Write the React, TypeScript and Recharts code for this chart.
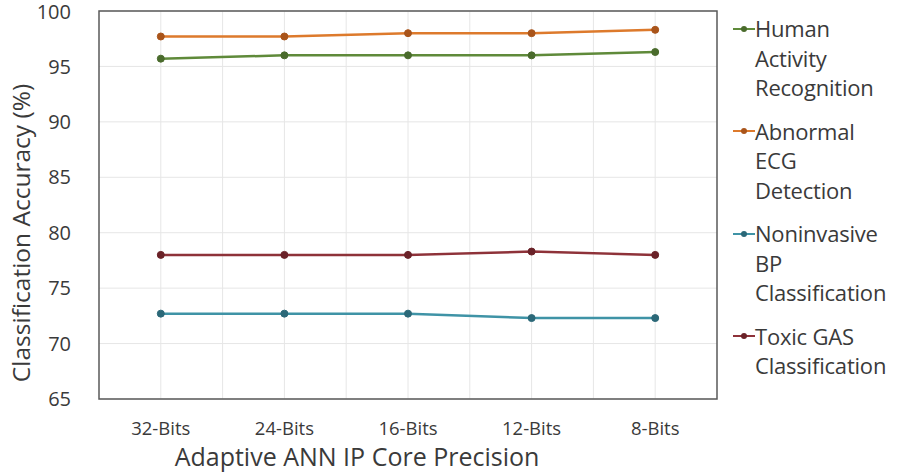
import { CartesianGrid, Legend, Line, LineChart, ReferenceArea, XAxis, YAxis } from "recharts";

const precisions = ["32-Bits", "24-Bits", "16-Bits", "12-Bits", "8-Bits"];

const humanActivity = [95.7, 96.0, 96.0, 96.0, 96.3];
const abnormalEcg = [97.7, 97.7, 98.0, 98.0, 98.3];
const noninvasiveBp = [72.7, 72.7, 72.7, 72.3, 72.3];
const toxicGas = [78.0, 78.0, 78.0, 78.3, 78.0];

const yTicks = [65, 70, 75, 80, 85, 90, 95, 100];

const series = [
  { key: "human", lines: ["Human", "Activity", "Recognition"], values: humanActivity, color: "#5f8a3a", dot: "#4a6b2c" },
  { key: "ecg", lines: ["Abnormal", "ECG", "Detection"], values: abnormalEcg, color: "#dd7a2c", dot: "#a9541a" },
  { key: "bp", lines: ["Noninvasive", "BP", "Classification"], values: noninvasiveBp, color: "#3f93a6", dot: "#2b6878" },
  { key: "gas", lines: ["Toxic GAS", "Classification"], values: toxicGas, color: "#8e3239", dot: "#6a2228" },
];

const data = precisions.map((p, i) => {
  const row: Record<string, string | number> = { precision: p };
  series.forEach((s) => (row[s.key] = s.values[i]));
  return row;
});

const font = "'Open Sans', sans-serif";
const textColor = "#3a3a3a";

function LegendBox() {
  return (
    <div style={{ fontFamily: font, fontSize: 22, color: textColor, lineHeight: "29.5px", letterSpacing: -0.2 }}>
      {series.map((s) => (
        <div key={s.key} style={{ marginBottom: 14 }}>
          {s.lines.map((line, i) => (
            <div key={line} style={{ display: "flex", alignItems: "center", whiteSpace: "nowrap" }}>
              {i === 0 ? (
                <svg width={22} height={10} style={{ marginRight: 0 }}>
                  <line x1={0} y1={5} x2={22} y2={5} stroke={s.color} strokeWidth={2} />
                  <circle cx={11} cy={5} r={3} fill={s.dot} />
                </svg>
              ) : (
                <span style={{ width: 22, display: "inline-block" }} />
              )}
              <span>{line}</span>
            </div>
          ))}
        </div>
      ))}
    </div>
  );
}

export default function App() {
  return (
    <div style={{ position: "absolute", left: 0, top: 0, width: 907, height: 474, background: "#fff" }}>
      <LineChart width={907} height={474} data={data} margin={{ top: 11, right: 16, left: 0, bottom: 30 }}>
        <CartesianGrid
          stroke="#e6e6e6"
          verticalCoordinatesGenerator={({ offset }: any) => {
            const step = offset.width / precisions.length / 2;
            const pts: number[] = [];
            for (let i = 1; i < precisions.length * 2; i++) pts.push(offset.left + i * step);
            return pts;
          }}
        />
        <XAxis
          dataKey="precision"
          scale="band"
          axisLine={false}
          tickLine={false}
          tick={{ fill: textColor, fontSize: 18.5, fontFamily: font }}
          tickMargin={17}
          height={45}
          label={{ value: "Adaptive ANN IP Core Precision", position: "insideBottom", offset: -22, dx: -51, fill: textColor, fontSize: 25, fontFamily: font }}
        />
        <YAxis
          domain={[65, 100]}
          ticks={yTicks}
          axisLine={false}
          tickLine={false}
          width={99}
          tickMargin={22}
          tick={{ fill: textColor, fontSize: 20, fontFamily: font }}
          label={{ value: "Classification Accuracy (%)", angle: -90, position: "insideLeft", dx: 16, dy: 28, fill: textColor, fontSize: 24.5, fontFamily: font, style: { textAnchor: "middle" } }}
        />
        <ReferenceArea y1={65} y2={100} fill="none" stroke="#5a5a5a" strokeWidth={1.5} ifOverflow="visible" />
        {series.map((s) => (
          <Line
            key={s.key}
            dataKey={s.key}
            name={s.lines.join(" ")}
            stroke={s.color}
            strokeWidth={2.5}
            dot={{ r: 3.5, fill: s.dot, stroke: s.dot, strokeWidth: 1 }}
            isAnimationActive={false}
          />
        ))}
        <Legend
          layout="vertical"
          align="right"
          verticalAlign="top"
          content={<LegendBox />}
          wrapperStyle={{ left: 733, top: 14, width: 174 }}
        />
      </LineChart>
    </div>
  );
}
